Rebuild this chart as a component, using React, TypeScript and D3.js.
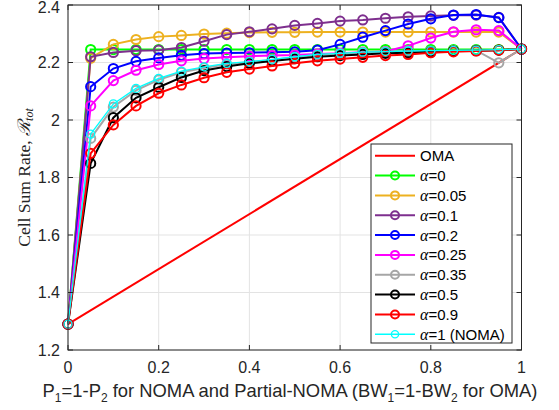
import React from "react";
import * as d3 from "d3";

const xs = [0, 0.05, 0.1, 0.15, 0.2, 0.25, 0.3, 0.35, 0.4, 0.45, 0.5, 0.55, 0.6, 0.65, 0.7, 0.75, 0.8, 0.85, 0.9, 0.95, 1];
const omaX = [0, 1];
const omaY = [1.29, 2.247];
const a0 = [1.29, 2.245, 2.245, 2.245, 2.245, 2.245, 2.245, 2.245, 2.245, 2.245, 2.245, 2.245, 2.245, 2.245, 2.245, 2.245, 2.245, 2.245, 2.245, 2.245, 2.247];
const a005 = [1.29, 2.215, 2.263, 2.28, 2.29, 2.294, 2.299, 2.302, 2.304, 2.305, 2.305, 2.306, 2.306, 2.306, 2.306, 2.306, 2.306, 2.306, 2.306, 2.306, 2.247];
const a01 = [1.29, 2.22, 2.235, 2.241, 2.243, 2.252, 2.274, 2.297, 2.307, 2.317, 2.329, 2.336, 2.344, 2.348, 2.354, 2.359, 2.362, 2.364, 2.365, 2.357, 2.247];
const a02 = [1.29, 2.116, 2.179, 2.204, 2.216, 2.225, 2.231, 2.233, 2.234, 2.236, 2.237, 2.243, 2.263, 2.288, 2.311, 2.334, 2.352, 2.365, 2.367, 2.356, 2.247];
const a025 = [1.29, 2.049, 2.137, 2.173, 2.193, 2.206, 2.214, 2.218, 2.222, 2.224, 2.226, 2.23, 2.232, 2.236, 2.238, 2.258, 2.285, 2.307, 2.314, 2.311, 2.247];
const a035 = [1.29, 1.936, 2.045, 2.103, 2.14, 2.166, 2.181, 2.194, 2.201, 2.209, 2.218, 2.226, 2.231, 2.235, 2.237, 2.239, 2.24, 2.241, 2.242, 2.199, 2.247];
const a05 = [1.29, 1.849, 2.008, 2.077, 2.114, 2.148, 2.172, 2.186, 2.197, 2.205, 2.213, 2.22, 2.224, 2.228, 2.232, 2.234, 2.237, 2.24, 2.241, 2.243, 2.247];
const a09 = [1.29, 1.884, 1.983, 2.049, 2.093, 2.122, 2.147, 2.166, 2.177, 2.188, 2.197, 2.206, 2.212, 2.218, 2.224, 2.228, 2.234, 2.237, 2.24, 2.243, 2.247];
const a1 = [1.29, 1.951, 2.056, 2.11, 2.145, 2.17, 2.185, 2.197, 2.203, 2.211, 2.22, 2.228, 2.232, 2.236, 2.238, 2.24, 2.241, 2.242, 2.243, 2.245, 2.247];

const xTicks = [0, 0.2, 0.4, 0.6, 0.8, 1];
const yTicks = [1.2, 1.4, 1.6, 1.8, 2, 2.2, 2.4];
const xTickLabels = ["0", "0.2", "0.4", "0.6", "0.8", "1"];
const yTickLabels = ["1.2", "1.4", "1.6", "1.8", "2", "2.2", "2.4"];

const seriesNames = ["0", "0.05", "0.1", "0.2", "0.25", "0.35", "0.5", "0.9", "1 (NOMA)"];
const seriesValues = [a0, a005, a01, a02, a025, a035, a05, a09, a1];
const seriesColors = ["#00ff00", "#EDB120", "#7E2F8E", "#0000ff", "#ff00ff", "#a6a6a6", "#000000", "#ff0000", "#00ffff"];

const W = 559, H = 410;
const L = 68, R = 521.5, T = 5, B = 350;
const axisColor = "#262626";

export default function App() {
  const x = d3.scaleLinear().domain([0, 1]).range([L, R]);
  const y = d3.scaleLinear().domain([1.2, 2.4]).range([B, T]);
  const line = d3.line<[number, number]>().x(d => x(d[0])).y(d => y(d[1]));
  const sans = "'Liberation Sans', Arial, sans-serif";
  const serif = "'Liberation Serif', 'Times New Roman', serif";

  const legX = 371, legY = 144, legW = 141, legH = 199;
  const rowY = (i: number) => 155.7 + i * 19.84;

  return (
    <svg width={W} height={H} style={{ position: "absolute", left: 0, top: 0, background: "#fff" }}>
      <rect x={0} y={0} width={W} height={H} fill="#fff" />
      {/* grid */}
      {xTicks.map((t, i) => (
        <line key={"gx" + i} x1={x(t)} x2={x(t)} y1={T} y2={B} stroke="#e3e3e3" strokeWidth={1} />
      ))}
      {yTicks.map((t, i) => (
        <line key={"gy" + i} x1={L} x2={R} y1={y(t)} y2={y(t)} stroke="#e3e3e3" strokeWidth={1} />
      ))}
      {/* series */}
      <path d={line(omaX.map((v, i) => [v, omaY[i]]) as any) || ""} fill="none" stroke="#ff0000" strokeWidth={2} />
      {seriesValues.map((vals, si) => {
        const pts = xs.map((v, i) => [v, vals[i]] as [number, number]);
        const isC = si === seriesValues.length - 1;
        return (
          <g key={"s" + si}>
            <path d={line(pts) || ""} fill="none" stroke={seriesColors[si]} strokeWidth={isC ? 1.3 : 2} />
            {pts.map((p, i) => (
              <circle key={i} cx={x(p[0])} cy={y(p[1])} r={isC ? 4 : 4.6} fill="none" stroke={seriesColors[si]} strokeWidth={isC ? 1.3 : 2} />
            ))}
          </g>
        );
      })}
      {/* axes box */}
      <rect x={L} y={T} width={R - L} height={B - T} fill="none" stroke={axisColor} strokeWidth={1} />
      {xTicks.map((t, i) => (
        <g key={"xt" + i}>
          <line x1={x(t)} x2={x(t)} y1={B} y2={B - 5} stroke={axisColor} />
          <line x1={x(t)} x2={x(t)} y1={T} y2={T + 5} stroke={axisColor} />
          <text x={x(t)} y={373} textAnchor="middle" fontFamily={sans} fontSize={16} fill={axisColor}>{xTickLabels[i]}</text>
        </g>
      ))}
      {yTicks.map((t, i) => (
        <g key={"yt" + i}>
          <line x1={L} x2={L + 5} y1={y(t)} y2={y(t)} stroke={axisColor} />
          <line x1={R} x2={R - 5} y1={y(t)} y2={y(t)} stroke={axisColor} />
          <text x={60} y={Math.max(y(t) + 5.5, 12.5)} textAnchor="end" fontFamily={sans} fontSize={16} fill={axisColor}>{yTickLabels[i]}</text>
        </g>
      ))}
      {/* x label */}
      <text x={290} y={397} textAnchor="middle" fontFamily={sans} fontSize={18.4} fill={axisColor}>
        P<tspan fontSize={12} dy={5}>1</tspan><tspan dy={-5}>=1-P</tspan><tspan fontSize={12} dy={5}>2</tspan><tspan dy={-5}> for NOMA and Partial-NOMA (BW</tspan><tspan fontSize={12} dy={5}>1</tspan><tspan dy={-5}>=1-BW</tspan><tspan fontSize={12} dy={5}>2</tspan><tspan dy={-5}> for OMA)</tspan>
      </text>
      {/* y label */}
      <text transform={`translate(30,${(T + B) / 2}) rotate(-90)`} textAnchor="middle" fontFamily={serif} fontSize={17.5} fill={axisColor}>
        Cell Sum Rate, <tspan fontStyle="italic" fontFamily="'DejaVu Serif', serif">ℛ</tspan><tspan fontStyle="italic" fontSize={12} dy={3}>tot</tspan>
      </text>
      {/* legend */}
      <rect x={legX} y={legY} width={legW} height={legH} fill="#fff" stroke={axisColor} strokeWidth={1} />
      <line x1={375} x2={415} y1={rowY(0)} y2={rowY(0)} stroke="#ff0000" strokeWidth={2} />
      <text x={420} y={rowY(0) + 5.5} fontFamily={sans} fontSize={15} fill="#000">OMA</text>
      {seriesNames.map((n, i) => {
        const isC = i === seriesNames.length - 1;
        const yy = rowY(i + 1);
        return (
          <g key={"lg" + i}>
            <line x1={375} x2={415} y1={yy} y2={yy} stroke={seriesColors[i]} strokeWidth={isC ? 1.3 : 2} />
            <circle cx={395} cy={yy} r={isC ? 3.6 : 4} fill="none" stroke={seriesColors[i]} strokeWidth={isC ? 1.3 : 2} />
            <text x={420} y={yy + 5.5} fontSize={15} fill="#000" fontFamily={sans}>
              <tspan fontFamily={serif} fontStyle="italic" fontSize={16}>α</tspan>={n}
            </text>
          </g>
        );
      })}
    </svg>
  );
}
